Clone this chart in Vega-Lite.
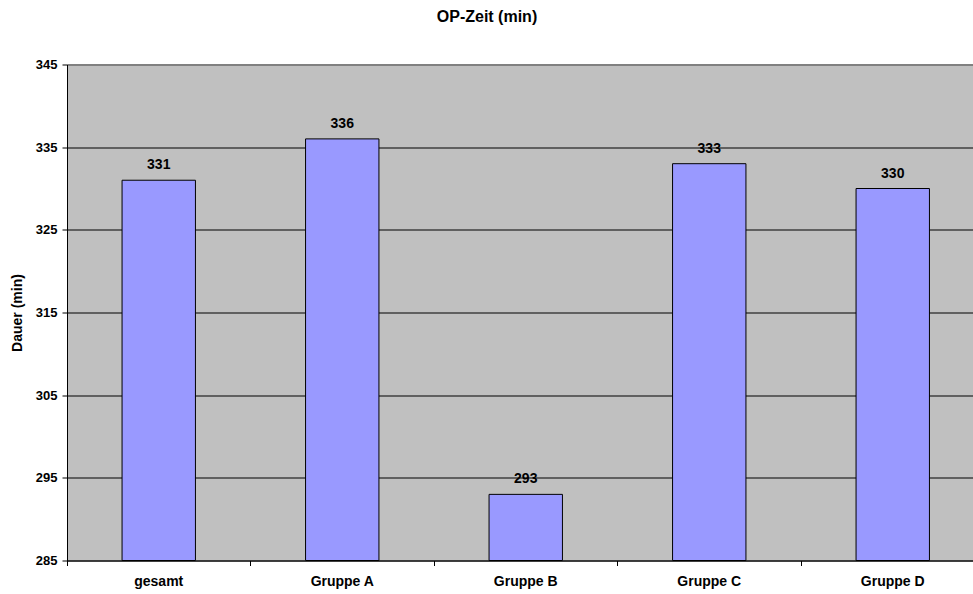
{
  "$schema": "https://vega.github.io/schema/vega-lite/v6.json",
  "autosize": "none",
  "width": 906,
  "height": 496,
  "padding": {"left": 67, "top": 64.5, "right": 0, "bottom": 33.5},
  "background": "white",
  "config": {
    "font": "Liberation Sans",
    "view": {"fill": "#C0C0C0", "stroke": null}
  },
  "title": {
    "text": "OP-Zeit (min)",
    "fontSize": 16,
    "fontWeight": "bold",
    "color": "black",
    "anchor": "middle",
    "baseline": "alphabetic",
    "offset": 21,
    "dx": -33
  },
  "data": {
    "values": [
      {"gruppe": "gesamt", "dauer": 331},
      {"gruppe": "Gruppe A", "dauer": 336},
      {"gruppe": "Gruppe B", "dauer": 293},
      {"gruppe": "Gruppe C", "dauer": 333},
      {"gruppe": "Gruppe D", "dauer": 330}
    ]
  },
  "encoding": {
    "x": {
      "field": "gruppe",
      "type": "nominal",
      "sort": null,
      "scale": {"type": "band", "range": [0, 917.5], "paddingInner": 0, "paddingOuter": 0},
      "axis": {
        "title": null,
        "labelAngle": 0,
        "labelFontSize": 14,
        "labelFontWeight": "bold",
        "labelColor": "black",
        "labelPadding": 9,
        "labelBound": false,
        "labelOverlap": false,
        "bandPosition": 0,
        "tickSize": 5,
        "tickColor": "black",
        "domainColor": "black",
        "grid": false
      }
    },
    "y": {
      "field": "dauer",
      "type": "quantitative",
      "scale": {"domain": [285, 345], "nice": false, "zero": false},
      "axis": {
        "title": "Dauer (min)",
        "titleFontSize": 14,
        "titleFontWeight": "bold",
        "titleColor": "black",
        "titlePadding": 11,
        "values": [285, 295, 305, 315, 325, 335, 345],
        "labelFontSize": 13,
        "labelFontWeight": "bold",
        "labelColor": "black",
        "labelPadding": 5,
        "tickSize": 5,
        "tickColor": "black",
        "domainColor": "black",
        "grid": true,
        "gridColor": {"condition": {"test": "datum.value === 345", "value": "#808080"}, "value": "black"},
        "gridWidth": {"condition": {"test": "datum.value === 345", "value": 2}, "value": 1},
        "gridOpacity": 1
      }
    }
  },
  "layer": [
    {
      "mark": {"type": "bar", "width": {"band": 0.4}, "fill": "#9999FF", "stroke": "black", "strokeWidth": 1},
      "encoding": {"y2": {"datum": 285}}
    },
    {
      "mark": {"type": "text", "fontSize": 14, "fontWeight": "bold", "color": "black", "baseline": "alphabetic", "dy": -11},
      "encoding": {"text": {"field": "dauer", "type": "quantitative"}}
    }
  ]
}
